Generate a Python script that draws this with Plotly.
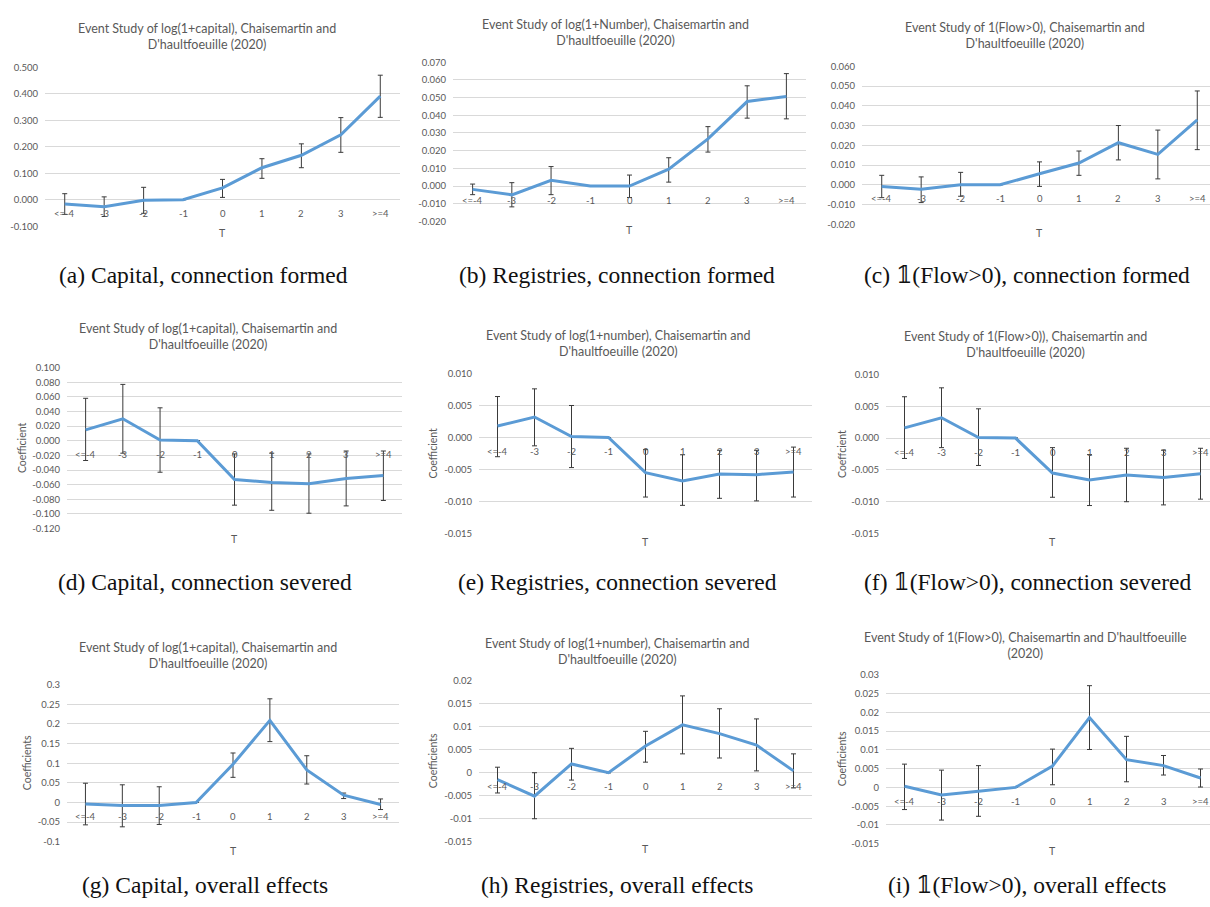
import math
import plotly.graph_objects as go

# ---------------- data ----------------
categories = ["&lt;=-4", "-3", "-2", "-1", "0", "1", "2", "3", "&gt;=4"]

a_coef = [-0.016, -0.026, -0.002, 0.0, 0.045, 0.121, 0.168, 0.245, 0.391]
a_hi = [0.023, 0.011, 0.047, None, 0.077, 0.155, 0.211, 0.310, 0.470]
a_lo = [-0.055, -0.063, -0.051, None, 0.009, 0.081, 0.121, 0.179, 0.311]

b_coef = [-0.0019, -0.0050, 0.0032, 0.0, 0.0000, 0.0095, 0.0267, 0.0478, 0.0507]
b_hi = [0.0011, 0.0019, 0.0110, None, 0.0062, 0.0160, 0.0336, 0.0567, 0.0636]
b_lo = [-0.0049, -0.0118, -0.0049, None, -0.0065, 0.0022, 0.0192, 0.0384, 0.0380]

c_coef = [-0.0008, -0.0023, 0.0000, 0.0, 0.0056, 0.0110, 0.0213, 0.0154, 0.0329]
c_hi = [0.0048, 0.0040, 0.0063, None, 0.0116, 0.0171, 0.0300, 0.0277, 0.0475]
c_lo = [-0.0065, -0.0090, -0.0058, None, -0.0008, 0.0048, 0.0126, 0.0030, 0.0178]

d_coef = [0.0148, 0.0300, 0.0010, 0.0, -0.0530, -0.0570, -0.0587, -0.0516, -0.0475]
d_hi = [0.058, 0.077, 0.045, None, -0.018, -0.017, -0.018, -0.014, -0.014]
d_lo = [-0.027, -0.017, -0.043, None, -0.088, -0.095, -0.099, -0.089, -0.0816]

e_coef = [0.0018, 0.0032, 0.00015, 0.0, -0.0055, -0.0068, -0.0057, -0.0058, -0.0054]
e_hi = [0.0064, 0.0076, 0.0050, None, -0.0019, -0.0027, -0.0020, -0.0020, -0.0015]
e_lo = [-0.0030, -0.0013, -0.0047, None, -0.0093, -0.0106, -0.0095, -0.0099, -0.0093]

f_coef = [0.0016, 0.0032, 0.0001, 0.0, -0.0055, -0.0066, -0.0058, -0.0062, -0.0056]
f_hi = [0.0065, 0.0079, 0.0046, None, -0.0015, -0.0026, -0.0016, -0.0019, -0.0016]
f_lo = [-0.0032, -0.0015, -0.0043, None, -0.0093, -0.0106, -0.0100, -0.0105, -0.0096]

g_coef = [-0.004, -0.008, -0.008, 0.0, 0.0975, 0.209, 0.083, 0.0185, -0.005]
g_hi = [0.049, 0.045, 0.040, None, 0.126, 0.264, 0.119, 0.024, 0.009]
g_lo = [-0.057, -0.062, -0.056, None, 0.064, 0.155, 0.047, 0.010, -0.018]

h_coef = [-0.0015, -0.0051, 0.0019, 0.0, 0.0058, 0.0104, 0.0085, 0.0060, 0.0004]
h_hi = [0.0012, 0.0000, 0.0053, None, 0.0090, 0.0167, 0.0139, 0.0117, 0.0041]
h_lo = [-0.0044, -0.0100, -0.0016, None, 0.0023, 0.0041, 0.0032, 0.0004, -0.0033]

i_coef = [0.0003, -0.0020, -0.0010, 0.0, 0.0057, 0.0186, 0.0074, 0.0058, 0.0025]
i_hi = [0.0062, 0.0046, 0.0058, None, 0.0102, 0.0271, 0.0136, 0.0085, 0.0049]
i_lo = [-0.0059, -0.0087, -0.0077, None, 0.0007, 0.0101, 0.0015, 0.0033, 0.0001]

ticks_a = ["-0.100", "0.000", "0.100", "0.200", "0.300", "0.400", "0.500"]
ticks_b = ["-0.020", "-0.010", "0.000", "0.010", "0.020", "0.030", "0.040", "0.050", "0.060", "0.070"]
ticks_c = ["-0.020", "-0.010", "0.000", "0.010", "0.020", "0.030", "0.040", "0.050", "0.060"]
ticks_d = ["-0.120", "-0.100", "-0.080", "-0.060", "-0.040", "-0.020", "0.000", "0.020",
           "0.040", "0.060", "0.080", "0.100"]
ticks_ef = ["-0.015", "-0.010", "-0.005", "0.000", "0.005", "0.010"]
ticks_g = ["-0.1", "-0.05", "0", "0.05", "0.1", "0.15", "0.2", "0.25", "0.3"]
ticks_h = ["-0.015", "-0.01", "-0.005", "0", "0.005", "0.01", "0.015", "0.02"]
ticks_i = ["-0.015", "-0.01", "-0.005", "0", "0.005", "0.01", "0.015", "0.02", "0.025", "0.03"]

T1 = "Event Study of log(1+capital), Chaisemartin and<br>D'haultfoeuille (2020)"
T2 = "Event Study of log(1+Number), Chaisemartin and<br>D'haultfoeuille (2020)"
T3 = "Event Study of 1(Flow&gt;0), Chaisemartin and<br>D'haultfoeuille (2020)"
T5 = "Event Study of log(1+number), Chaisemartin and<br>D'haultfoeuille (2020)"
T6 = "Event Study of 1(Flow&gt;0)), Chaisemartin and<br>D'haultfoeuille (2020)"
T9 = "Event Study of 1(Flow&gt;0), Chaisemartin and D'haultfoeuille<br>(2020)"

captions = ["(a) Capital, connection formed", "(b) Registries, connection formed",
            "(c) 𝟙(Flow&gt;0), connection formed",
            "(d) Capital, connection severed", "(e) Registries, connection severed",
            "(f) 𝟙(Flow&gt;0), connection severed",
            "(g) Capital, overall effects", "(h) Registries, overall effects",
            "(i) 𝟙(Flow&gt;0), overall effects"]

# ---------------- layout specs (pixels) ----------------
W, H = 1210, 907
panels = [
    dict(coef=a_coef, hi=a_hi, lo=a_lo, ticks=ticks_a, title=T1, px=(45, 400, 62, 223), tx=207, ty=31, Ty=230, yt=None, ytx=0),
    dict(coef=b_coef, hi=b_hi, lo=b_lo, ticks=ticks_b, title=T2, px=(453, 806, 57, 218), tx=615, ty=27, Ty=227, yt=None, ytx=0),
    dict(coef=c_coef, hi=c_hi, lo=c_lo, ticks=ticks_c, title=T3, px=(862, 1217, 61, 221), tx=1025, ty=30, Ty=230, yt=None, ytx=0),
    dict(coef=d_coef, hi=d_hi, lo=d_lo, ticks=ticks_d, title=T1, px=(67, 402, 366, 529), tx=208, ty=335, Ty=540, yt="Coefficient", ytx=22),
    dict(coef=e_coef, hi=e_hi, lo=e_lo, ticks=ticks_ef, title=T5, px=(479, 812, 372, 534), tx=618, ty=342, Ty=543, yt="Coefficient", ytx=433),
    dict(coef=f_coef, hi=f_hi, lo=f_lo, ticks=ticks_ef, title=T6, px=(886, 1219, 373, 534), tx=1025, ty=343, Ty=543, yt="Coeffcient", ytx=842),
    dict(coef=g_coef, hi=g_hi, lo=g_lo, ticks=ticks_g, title=T1, px=(67, 399, 687, 846), tx=208, ty=657, Ty=855, yt="Coefficients", ytx=27),
    dict(coef=h_coef, hi=h_hi, lo=h_lo, ticks=ticks_h, title=T5, px=(479, 812, 683, 846), tx=617, ty=653, Ty=853, yt="Coefficients", ytx=433),
    dict(coef=i_coef, hi=i_hi, lo=i_lo, ticks=ticks_i, title=T9, px=(886, 1219, 677, 848), tx=1025, ty=647, Ty=855, yt="Coefficients", ytx=842),
]
caption_y = [272, 272, 272, 583, 583, 583, 890, 890, 890]
caption_x = [203, 617, 1027, 205, 617, 1027, 205, 617, 1027]

GRAY = "#595959"
BLUE = "#5B9BD5"
FONT = "Lato"

fig = go.Figure()
annotations = []
layout = {}

for k, p in enumerate(panels):
    n = k + 1
    xa = "x" if n == 1 else f"x{n}"
    ya = "y" if n == 1 else f"y{n}"
    xkey = "xaxis" if n == 1 else f"xaxis{n}"
    ykey = "yaxis" if n == 1 else f"yaxis{n}"
    x0, x1, yt, yb = p["px"]
    ncat = len(categories)
    step = (x1 - x0) / ncat
    xr_end = -0.5 + ncat
    x1c = x1
    if x1 > W:
        x1c = W
        xr_end = -0.5 + (W - x0) / step
    tickvals = [float(t) for t in p["ticks"]]
    err_up = [(h - c) if h is not None else float("nan") for h, c in zip(p["hi"], p["coef"])]
    err_dn = [(c - l) if l is not None else float("nan") for l, c in zip(p["lo"], p["coef"])]
    xs = list(range(ncat))
    fig.add_trace(go.Scatter(
        x=xs, y=p["coef"], mode="lines", xaxis=xa, yaxis=ya,
        line=dict(color=BLUE, width=3), showlegend=False, hoverinfo="skip",
        error_y=dict(type="data", symmetric=False, array=err_up, arrayminus=err_dn,
                     color="#3A3A3A", thickness=1, width=2.5),
    ))
    layout[xkey] = dict(domain=[x0 / W, x1c / W], range=[-0.5, xr_end], anchor=ya,
                        showgrid=False, zeroline=False, showticklabels=False,
                        showline=False, fixedrange=True)
    layout[ykey] = dict(domain=[1 - yb / H, 1 - yt / H], range=[tickvals[0], tickvals[-1]],
                        anchor=xa, tickvals=tickvals, ticktext=p["ticks"],
                        showgrid=True, gridcolor="#D9D9D9", gridwidth=1, zeroline=False,
                        showline=False, ticks="", ticklabelstandoff=6, fixedrange=True,
                        tickfont=dict(family=FONT, size=9.5, color=GRAY))
    for xi, lab in zip(xs, categories):
        annotations.append(dict(x=xi, y=0, xref=xa, yref=ya, text=lab, showarrow=False,
                                yshift=-14, font=dict(family=FONT, size=9.5, color=GRAY)))
    annotations.append(dict(x=p["tx"] / W, y=1 - p["ty"] / H, xref="paper", yref="paper",
                            text=p["title"], showarrow=False, xanchor="center", yanchor="middle",
                            font=dict(family=FONT, size=12.5, color=GRAY)))
    annotations.append(dict(x=((x0 + x1) / 2) / W, y=1 - p["Ty"] / H, xref="paper", yref="paper",
                            text="T", showarrow=False, xanchor="center", yanchor="middle",
                            font=dict(family=FONT, size=10.5, color=GRAY)))
    if p["yt"]:
        annotations.append(dict(x=p["ytx"] / W, y=1 - ((yt + yb) / 2) / H, xref="paper", yref="paper",
                                text=p["yt"], showarrow=False, textangle=-90,
                                xanchor="center", yanchor="middle",
                                font=dict(family=FONT, size=10.5, color=GRAY)))
    annotations.append(dict(x=caption_x[k] / W, y=1 - caption_y[k] / H, xref="paper", yref="paper",
                            text=captions[k], showarrow=False, xanchor="center", yanchor="middle",
                            font=dict(family="Liberation Serif, DejaVu Serif, serif", size=23.5, color="#111111")))

fig.update_layout(width=W, height=H, margin=dict(l=0, r=0, t=0, b=0),
                  paper_bgcolor="white", plot_bgcolor="white",
                  annotations=annotations, **layout)

fig.write_html("out.html", config={"displayModeBar": False},
               post_script="document.body.style.margin='0px';")
